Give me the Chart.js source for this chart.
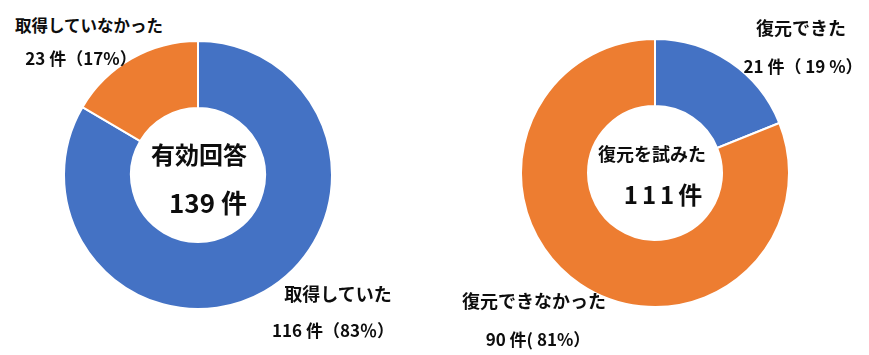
<!DOCTYPE html>
<html lang="ja">
<head>
<meta charset="utf-8">
<script src="https://cdn.jsdelivr.net/npm/chart.js@4/dist/chart.umd.min.js"></script>
<style>
  html, body { margin: 0; padding: 0; background: #fff; }
  #lienzo { position: relative; width: 869px; height: 355px; overflow: hidden;
            font-family: 'Noto Sans CJK JP', 'Noto Sans', sans-serif; font-weight: bold; color: #0d0d0d; }
  .caja { position: absolute; }
  .txt { position: absolute; white-space: nowrap; transform: translate(-50%, -50%); line-height: 1; }
</style>
</head>
<body>
<div id="lienzo">
  <div class="caja" id="caja-izq" style="left:63px; top:40px; width:270px; height:270px;"><canvas id="graf-izq"></canvas></div>
  <div class="caja" id="caja-der" style="left:520px; top:38px; width:270px; height:270px;"><canvas id="graf-der"></canvas></div>
</div>
<script>
// ── Datos ─────────────────────────────────────
const categoriasIzq = ['取得していた', '取得していなかった']
const valoresIzq    = [116, 23]
const centroIzq     = ['有効回答', '139 件']

const categoriasDer = ['復元できた', '復元できなかった']
const valoresDer    = [21, 90]
const centroDer     = ['復元を試みた', '111件']

const etiquetasIzq = ['116 件（83％）', '23 件（17%）']
const etiquetasDer = ['21 件（ 19 %）', '90 件( 81%）']

const AZUL    = '#4472C4'
const NARANJA = '#ED7D31'

// ── Doughnut ──────────────────────────────────
function crearDona(id, categorias, valores) {
  return new Chart(document.getElementById(id), {
    type: 'doughnut',
    data: {
      labels: categorias,
      datasets: [{
        data: valores,
        backgroundColor: [AZUL, NARANJA],
        borderColor: '#ffffff',
        borderWidth: 2
      }]
    },
    options: {
      responsive: true,
      maintainAspectRatio: false,
      cutout: '50%',
      animation: false,
      layout: { padding: 0 },
      plugins: { legend: { display: false }, tooltip: { enabled: false } }
    }
  })
}

crearDona('graf-izq', categoriasIzq, valoresIzq)
crearDona('graf-der', categoriasDer, valoresDer)

// ── Textos ────────────────────────────────────
const lienzo = document.getElementById('lienzo')
function texto(str, x, y, size, extra) {
  const d = document.createElement('div')
  d.className = 'txt'
  d.textContent = str
  d.style.left = x + 'px'
  d.style.top = y + 'px'
  d.style.fontSize = size + 'px'
  if (extra) Object.assign(d.style, extra)
  lienzo.appendChild(d)
}

// izquierda
texto(categoriasIzq[1], 89, 25, 16.5)
texto(etiquetasIzq[1], 81, 57, 17)
texto(centroIzq[0], 199, 154, 24)
texto(centroIzq[1], 208, 202, 26)
texto(categoriasIzq[0], 338, 293, 18)
texto(etiquetasIzq[0], 333, 329, 17)

// derecha
texto(categoriasDer[0], 801, 27, 18)
texto(etiquetasDer[0], 803, 65, 17)
texto(centroDer[0], 652, 153, 18)
texto(centroDer[1], 665, 194, 24, { letterSpacing: '4px' })
texto(categoriasDer[1], 534, 300, 18)
texto(etiquetasDer[1], 538, 338, 17)
</script>
</body>
</html>
